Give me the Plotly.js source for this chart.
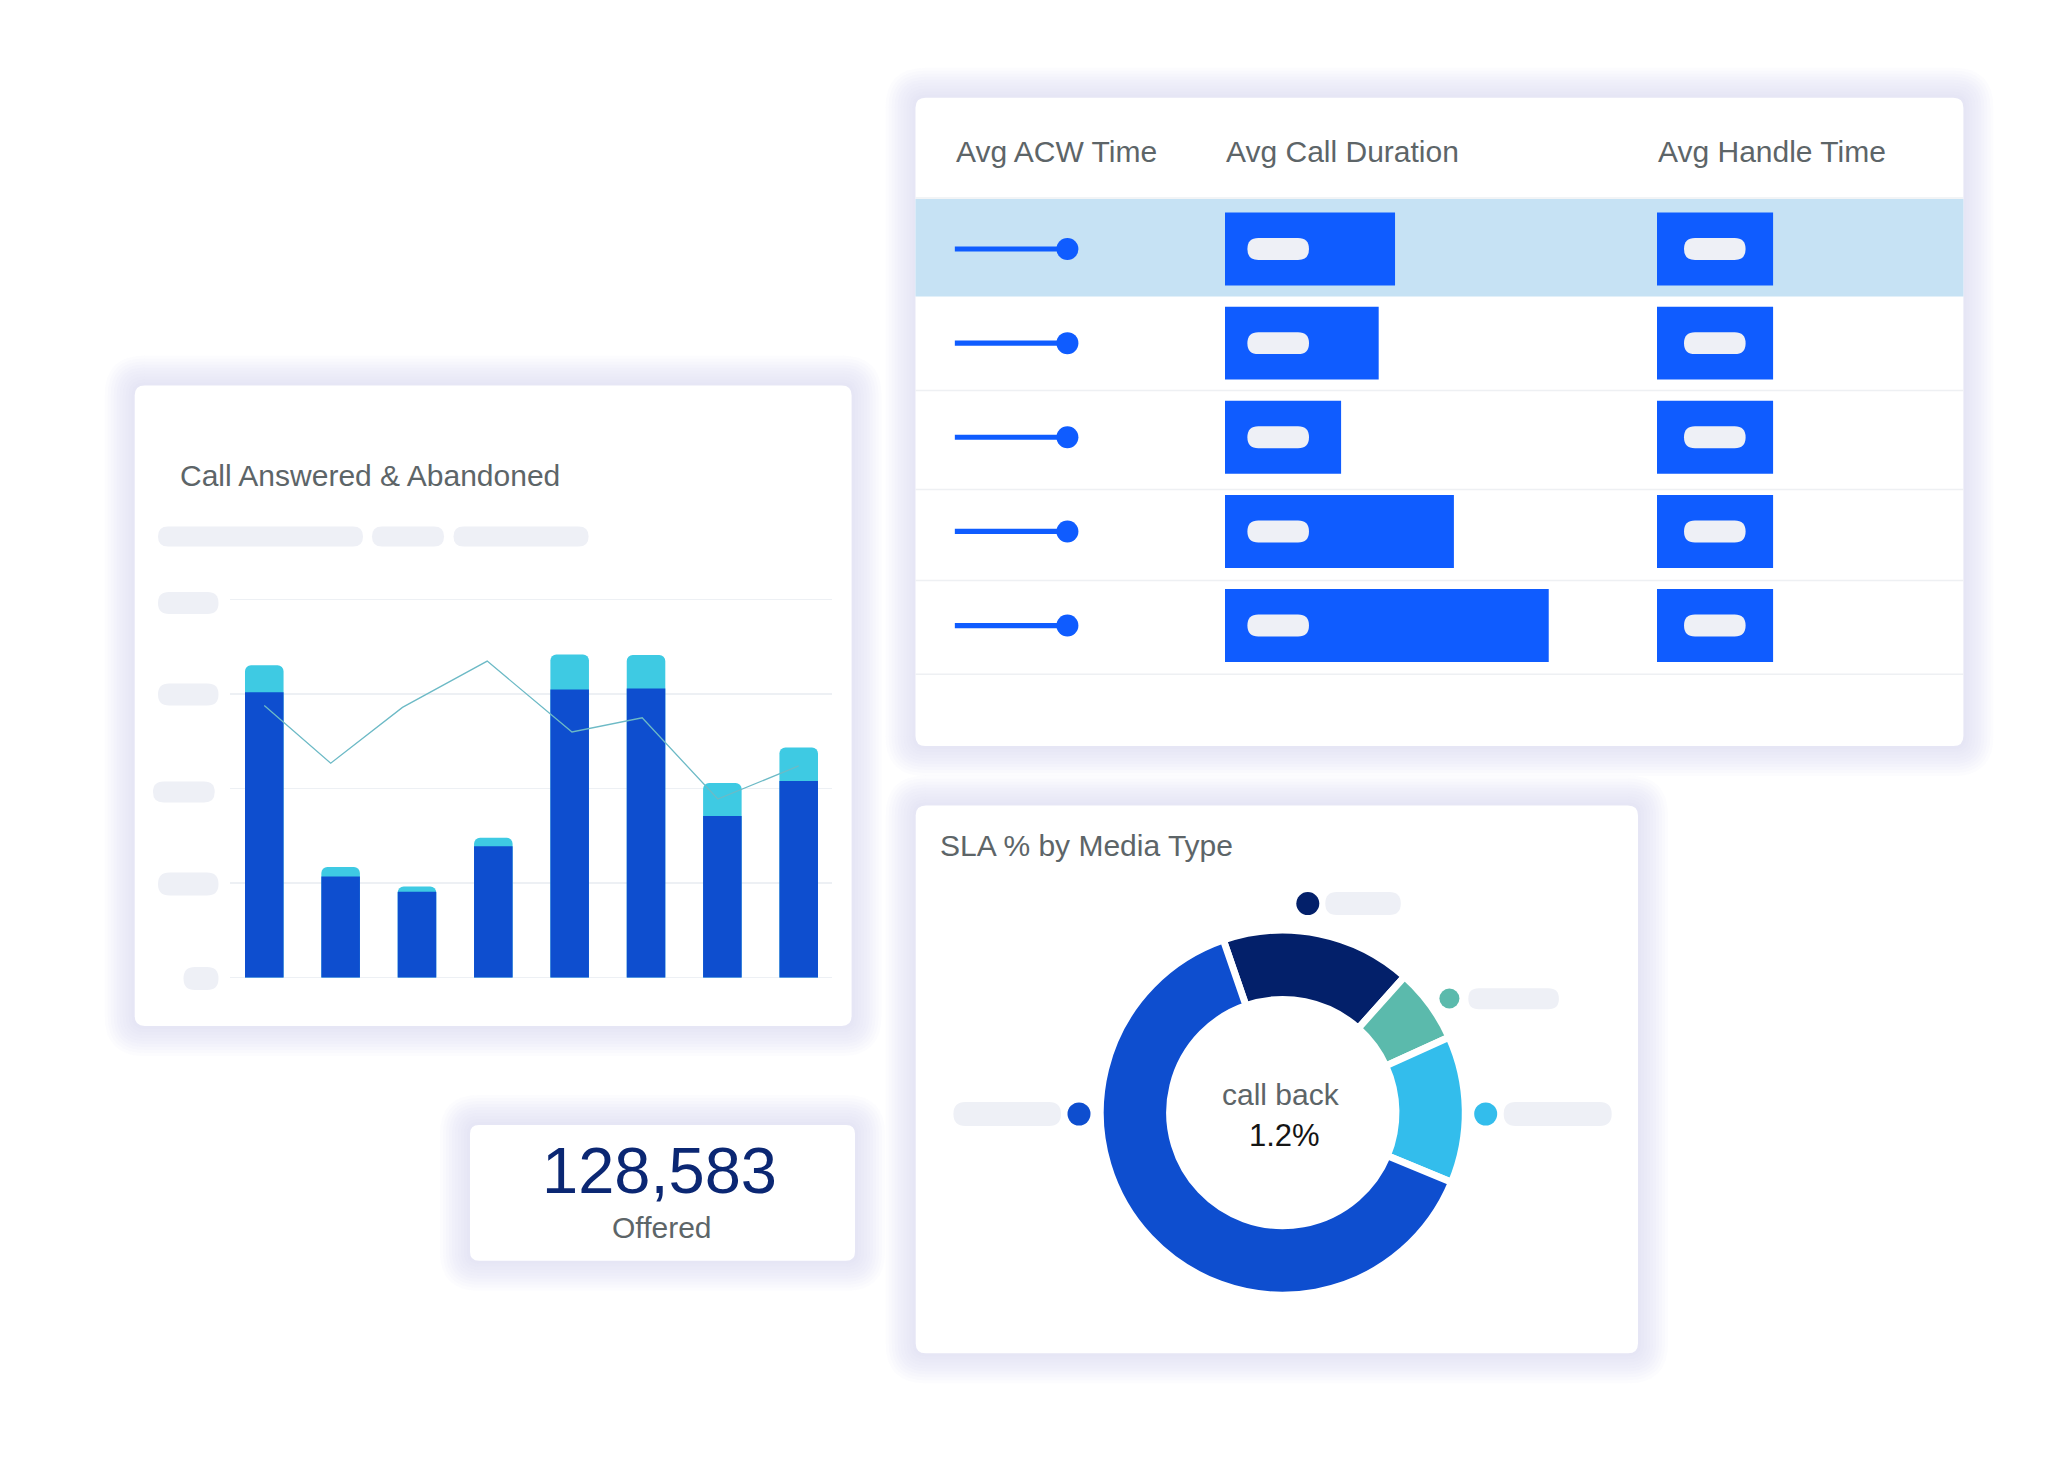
<!DOCTYPE html>
<html>
<head>
<meta charset="utf-8">
<script src="https://cdn.plot.ly/plotly-3.0.1.min.js"></script>
<style>
  html, body { margin: 0; padding: 0; background: #ffffff; }
  #chart { width: 2048px; height: 1476px; }
</style>
</head>
<body>
<div id="chart"></div>
<script>
// ---------------- DATA ----------------
// Call Answered & Abandoned (stacked bars + trend line)
const periods   = [1, 2, 3, 4, 5, 6, 7, 8];
const answered  = [30.2, 10.7, 9.1, 13.9, 30.5, 30.6, 17.1, 20.8];
const abandoned = [2.85, 1.0, 0.55, 0.9, 3.7, 3.55, 3.5, 3.55];
const trendX    = [1.0, 1.87, 2.81, 3.92, 5.03, 5.95, 6.94, 8.0];
const trendY    = [28.8, 22.7, 28.6, 33.5, 26.0, 27.5, 18.9, 22.4];
const gridTicks = [0, 10, 20, 30, 40];

// Table: Avg ACW Time / Avg Call Duration / Avg Handle Time
const rows         = ['Agent 1', 'Agent 2', 'Agent 3', 'Agent 4', 'Agent 5'];
const acwTime      = [34.5, 34.5, 34.5, 34.5, 34.5];
const callDuration = [52, 47, 35.5, 70, 99];
const handleTime   = [35.5, 35.5, 35.5, 35.5, 35.5];
const tableHeaders = ['Avg ACW Time', 'Avg Call Duration', 'Avg Handle Time'];

// SLA % by Media Type (donut)
const mediaTypes = ['Email', 'Chat', 'Call back', 'Voice'];
const slaShare   = [16.9, 6.6, 13.0, 63.5];
const centerLabel = 'call back';
const centerValue = '1.2%';

// KPI
const kpiValue = '128,583';
const kpiLabel = 'Offered';

// ---------------- LAYOUT HELPERS ----------------
const W = 2048, H = 1476;
const fx = x => x / W;
const fy = y => 1 - y / H;
const P = (x, y) => fx(x).toFixed(5) + ',' + fy(y).toFixed(5);
function rrPath(x0, y0, x1, y1, r) {
  r = Math.min(r, (x1 - x0) / 2, (y1 - y0) / 2);
  return 'M' + P(x0 + r, y0) + ' L' + P(x1 - r, y0) + ' Q' + P(x1, y0) + ' ' + P(x1, y0 + r) +
         ' L' + P(x1, y1 - r) + ' Q' + P(x1, y1) + ' ' + P(x1 - r, y1) +
         ' L' + P(x0 + r, y1) + ' Q' + P(x0, y1) + ' ' + P(x0, y1 - r) +
         ' L' + P(x0, y0 + r) + ' Q' + P(x0, y0) + ' ' + P(x0 + r, y0) + ' Z';
}
const shapes = [];
function rr(x0, y0, x1, y1, r, color, layer) {
  shapes.push({type: 'path', xref: 'paper', yref: 'paper', path: rrPath(x0, y0, x1, y1, r),
               fillcolor: color, line: {width: 0}, layer: layer || 'below'});
}
function pill(x0, yc, x1, h, layer) { rr(x0, yc - h / 2, x1, yc + h / 2, h / 2, '#eef0f6', layer); }
function dot(cx, cy, d, color) {
  shapes.push({type: 'circle', xref: 'paper', yref: 'paper',
               x0: fx(cx - d / 2), x1: fx(cx + d / 2), y0: fy(cy + d / 2), y1: fy(cy - d / 2),
               fillcolor: color, line: {width: 0}, layer: 'below'});
}
function hline(x0, x1, y, color, w) {
  shapes.push({type: 'line', xref: 'paper', yref: 'paper', x0: fx(x0), x1: fx(x1), y0: fy(y), y1: fy(y),
               line: {color: color, width: w}, layer: 'below'});
}
function card(x0, y0, x1, y1, r) {
  for (let s = 30; s >= 3; s -= 3) {
    rr(x0 - s, y0 - s, x1 + s, y1 + s, r + s, 'rgba(204,210,247,0.068)');
  }
  rr(x0, y0, x1, y1, r, '#ffffff');
}

// Cards
card(134.7, 385.5, 851.6, 1026, 10);
card(915.5, 97.7, 1963.4, 746, 10);
card(915.7, 805.5, 1638, 1353.3, 10);
card(470, 1125, 855, 1260.7, 9);

// Left card placeholders
pill(158, 536.6, 363, 20);
pill(372, 536.6, 444, 20);
pill(453.5, 536.6, 588.6, 20);
pill(158, 603, 218.5, 22);
pill(158, 694.6, 218.5, 22);
pill(153, 792, 214.7, 21);
pill(158, 884, 218.5, 23);
pill(183.5, 978.5, 218.5, 23);

// Table decorations
shapes.push({type: 'rect', xref: 'paper', yref: 'paper', x0: fx(915.5), x1: fx(1963.4), y0: fy(296.4), y1: fy(199),
             fillcolor: '#c6e2f4', line: {width: 0}, layer: 'below'});
hline(915.5, 1963.4, 198, '#eef0f3', 1.5);
[390.4, 489.6, 580.6, 674.2].forEach(y => hline(915.5, 1963.4, y, '#eef0f3', 1.5));

// Table geometry
const rowTop = 201.9, rowStep = 94.15, pxPerUnit = 3.27;
const colLeft = [954.6, 1225, 1657];
rows.forEach((r, i) => {
  const yc = rowTop + (i + 0.5) * rowStep;
  pill(colLeft[1] + 22.4, yc, colLeft[1] + 84, 22, 'above');
  pill(colLeft[2] + 27, yc, colLeft[2] + 88.6, 22, 'above');
});

// Donut legend placeholders
dot(1307.8, 903.6, 23, '#03206a');   pill(1325.3, 903.6, 1400.8, 23);
dot(1449.4, 998.5, 20, '#5bbaac');   pill(1468.3, 998.8, 1558.9, 21);
dot(1485.7, 1114, 23, '#33bdec');    pill(1503.7, 1114, 1611.7, 24);
dot(1079, 1114, 23, '#0e4ecf');      pill(953.4, 1114, 1061, 24);

// Annotations
const FONT = 'Liberation Sans, Arial, Helvetica, sans-serif';
const GRAY = '#5d6568';
const annotations = [];
function ann(text, x, yc, size, color, anchor) {
  annotations.push({text: text, xref: 'paper', yref: 'paper', x: fx(x), y: fy(yc),
                    xanchor: anchor || 'left', yanchor: 'middle', showarrow: false,
                    font: {family: FONT, size: size, color: color}});
}
ann('Call Answered &amp; Abandoned', 178, 475.5, 30, GRAY);
ann(tableHeaders[0], colLeft[0] - 1, 151.5, 30, GRAY);
ann(tableHeaders[1], colLeft[1] - 1, 151.5, 30, GRAY);
ann(tableHeaders[2], colLeft[2] - 1, 151.5, 30, GRAY);
ann('SLA % by Media Type', 938, 845, 30, GRAY);
ann(centerLabel, 1281, 1094, 30, GRAY, 'center');
ann(centerValue, 1284, 1135, 31, '#151515', 'center');
ann(kpiValue, 659, 1170, 65, '#0b2773', 'center');
ann(kpiLabel, 661.5, 1227, 30, GRAY, 'center');

// ---------------- TRACES ----------------
const totals = answered.map((v, i) => v + abandoned[i]);
const traces = [
  {type: 'bar', x: periods, y: totals, width: 0.505, marker: {color: '#3ecae3', cornerradius: 6},
   xaxis: 'x', yaxis: 'y', hoverinfo: 'skip'},
  {type: 'bar', x: periods, y: answered, width: 0.505, marker: {color: '#0e4ecf', cornerradius: 6},
   xaxis: 'x', yaxis: 'y', hoverinfo: 'skip'},
  {type: 'scatter', mode: 'lines', x: trendX, y: trendY, line: {color: '#6dbac6', width: 1.3},
   xaxis: 'x', yaxis: 'y', hoverinfo: 'skip'},
  // ACW lollipop
  {type: 'bar', orientation: 'h', x: acwTime, y: rows, width: 0.055, marker: {color: '#0f5cff'},
   xaxis: 'x2', yaxis: 'y2', hoverinfo: 'skip'},
  {type: 'scatter', mode: 'markers', x: acwTime, y: rows, marker: {color: '#0f5cff', size: 22},
   xaxis: 'x2', yaxis: 'y2', hoverinfo: 'skip'},
  // Call duration
  {type: 'bar', orientation: 'h', x: callDuration, y: rows, width: 0.775, marker: {color: '#0f5cff'},
   xaxis: 'x3', yaxis: 'y2', hoverinfo: 'skip'},
  // Handle time
  {type: 'bar', orientation: 'h', x: handleTime, y: rows, width: 0.775, marker: {color: '#0f5cff'},
   xaxis: 'x4', yaxis: 'y2', hoverinfo: 'skip'},
  // Donut
  {type: 'pie', labels: mediaTypes, values: slaShare, hole: 0.62, sort: false,
   direction: 'clockwise', rotation: -19, textinfo: 'none', hoverinfo: 'skip',
   marker: {colors: ['#03206a', '#5bbaac', '#33bdec', '#0e4ecf'], line: {color: '#ffffff', width: 7}},
   domain: {x: [fx(1282.8 - 182.5), fx(1282.8 + 182.5)], y: [fy(1112.6 + 182.5), fy(1112.6 - 182.5)]}}
];

const hidden = {showgrid: false, zeroline: false, showticklabels: false, showline: false, ticks: '', fixedrange: true};
const pxPerY = (977.6 - 599.7) / 40;
const layout = {
  width: W, height: H,
  margin: {l: 0, r: 0, t: 0, b: 0},
  paper_bgcolor: '#ffffff', plot_bgcolor: 'rgba(0,0,0,0)',
  showlegend: false, barmode: 'overlay',
  font: {family: FONT},
  xaxis: Object.assign({}, hidden, {domain: [fx(230), fx(832)], range: [0.551, 8.436], anchor: 'y'}),
  yaxis: Object.assign({}, hidden, {domain: [fy(977.6 + 0.5 * pxPerY), fy(599.7 - 0.5 * pxPerY)], range: [-0.5, 40.5], anchor: 'x',
          showgrid: true, tickvals: gridTicks, gridcolor: '#edf0f4', gridwidth: 1.5}),
  xaxis2: Object.assign({}, hidden, {domain: [fx(colLeft[0]), fx(colLeft[0] + 250)], range: [0, 250 / pxPerUnit], anchor: 'y2'}),
  xaxis3: Object.assign({}, hidden, {domain: [fx(colLeft[1]), fx(colLeft[1] + 400)], range: [0, 400 / pxPerUnit], anchor: 'y2'}),
  xaxis4: Object.assign({}, hidden, {domain: [fx(colLeft[2]), fx(colLeft[2] + 300)], range: [0, 300 / pxPerUnit], anchor: 'y2'}),
  yaxis2: Object.assign({}, hidden, {domain: [fy(rowTop + 5 * rowStep), fy(rowTop)], type: 'category',
          categoryorder: 'array', categoryarray: rows, range: [4.5, -0.5], anchor: 'x2'}),
  shapes: shapes,
  annotations: annotations
};

Plotly.newPlot('chart', traces, layout, {displayModeBar: false, staticPlot: true});
</script>
</body>
</html>
